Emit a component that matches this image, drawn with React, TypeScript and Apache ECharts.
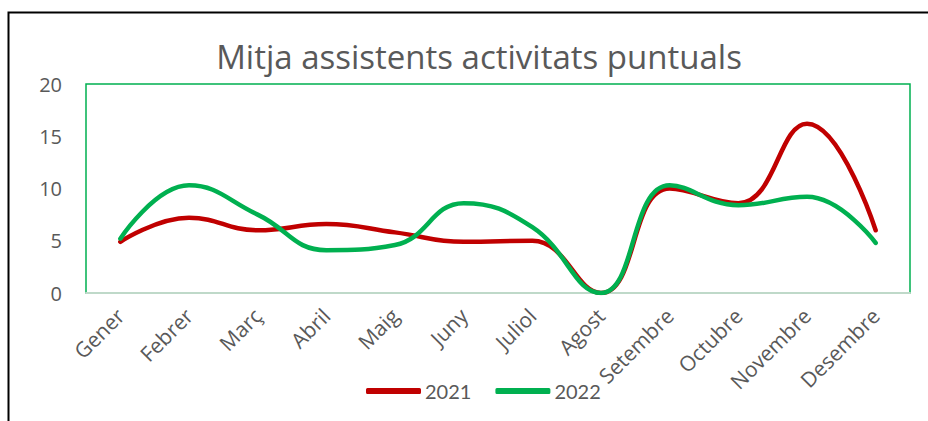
import React, { useEffect, useRef } from "react";
import * as echarts from "echarts";

const months = ["Gener", "Febrer", "Març", "Abril", "Maig", "Juny", "Juliol", "Agost", "Setembre", "Octubre", "Novembre", "Desembre"];
const values2021 = [4.9, 7.2, 6.0, 6.6, 5.8, 4.9, 5.0, 0, 10.0, 8.6, 16.2, 6.0];
const values2022 = [5.2, 10.3, 7.5, 4.1, 4.6, 8.6, 6.3, 0, 10.3, 8.4, 9.2, 4.8];
const yTicks = { min: 0, max: 20, interval: 5 };
const titleText = "Mitja assistents activitats puntuals";

const FONT = "'Open Sans', Lato, sans-serif";
const LEGEND_FONT = "Lato, 'Open Sans', sans-serif";

export default function App() {
  const ref = useRef<HTMLDivElement>(null);
  useEffect(() => {
    if (!ref.current) return;
    const chart = echarts.init(ref.current, undefined, { renderer: "svg" });
    chart.setOption({
      animation: false,
      backgroundColor: "#ffffff",
      textStyle: { fontFamily: FONT },
      title: {
        text: titleText,
        left: 474,
        textAlign: "center",
        top: 35,
        textStyle: { fontFamily: FONT, fontSize: 33, fontWeight: "normal", color: "#595959" },
      },
      graphic: [
        {
          type: "rect",
          shape: { x: 8.5, y: 12.5, width: 960, height: 460 },
          style: { fill: "none", stroke: "#000000", lineWidth: 2 },
          silent: true,
        },
      ],
      legend: {
        data: ["2021", "2022"],
        left: 361,
        top: 376,
        itemWidth: 55,
        itemHeight: 6,
        itemGap: 24,
        icon: "roundRect",
        textStyle: { fontFamily: LEGEND_FONT, fontSize: 20, color: "#595959", padding: [0, 0, 0, -1] },
      },
      grid: {
        left: 86,
        right: 18,
        top: 84,
        bottom: 128,
        show: true,
        borderColor: "#00B050",
        borderWidth: 1.5,
        containLabel: false,
      },
      xAxis: {
        type: "category",
        data: months,
        boundaryGap: true,
        axisTick: { show: false },
        axisLine: { show: true, lineStyle: { color: "#BFD9C9", width: 2 } },
        axisLabel: { rotate: 45, fontSize: 21, color: "#595959", fontFamily: FONT, margin: 19, interval: 0 },
        splitLine: { show: false },
      },
      yAxis: {
        type: "value",
        min: yTicks.min,
        max: yTicks.max,
        interval: yTicks.interval,
        axisLine: { show: false },
        axisTick: { show: false },
        splitLine: { show: false },
        axisLabel: { fontSize: 20, color: "#595959", fontFamily: FONT, margin: 24 },
      },
      series: [
        {
          name: "2021",
          type: "line",
          data: values2021,
          smooth: 0.45,
          symbol: "none",
          lineStyle: { color: "#C00000", width: 4.5, cap: "round" },
          itemStyle: { color: "#C00000" },
        },
        {
          name: "2022",
          type: "line",
          data: values2022,
          smooth: 0.45,
          symbol: "none",
          lineStyle: { color: "#00B050", width: 4.5, cap: "round" },
          itemStyle: { color: "#00B050" },
        },
      ],
    });
    return () => chart.dispose();
  }, []);
  return <div ref={ref} style={{ position: "fixed", left: 0, top: 0, width: 928, height: 421 }} />;
}
